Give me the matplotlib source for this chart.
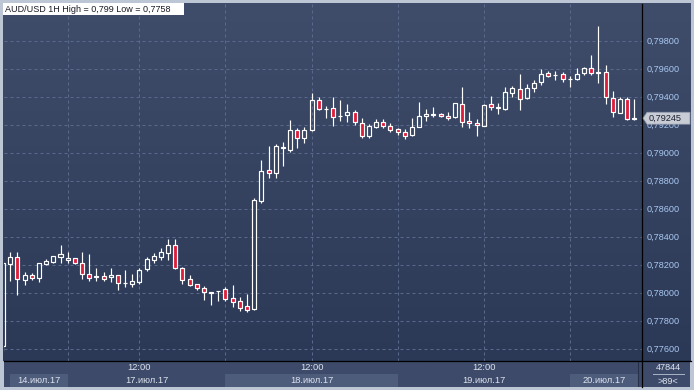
import numpy as np
import matplotlib
matplotlib.use("Agg")
import matplotlib.pyplot as plt
from matplotlib.patches import Rectangle, Polygon
from matplotlib.collections import LineCollection
from matplotlib.colors import LinearSegmentedColormap
from matplotlib.lines import Line2D
from matplotlib.ticker import FuncFormatter

plt.rcParams['font.family'] = ['Liberation Sans', 'DejaVu Sans']

# AUD/USD hourly candles (prices x 1e-5), first one is cut off by the left edge
opens = [77618, 78201, 78251, 78087, 78125, 78106, 78201, 78220, 78256, 78234,
         78244, 78209, 78130, 78109, 78120, 78109, 78123, 78066, 78059, 78073,
         78166, 78234, 78254, 78284, 78339, 78173, 78094, 78059, 78030, 77994,
         78008, 78023, 77959, 77939, 77904, 77880, 78656, 78875, 78851, 79030,
         79018, 79161, 79106, 79161, 79375, 79309, 79316, 79259, 79268, 79287,
         79213, 79118, 79184, 79216, 79187, 79168, 79144, 79125, 79184, 79259,
         79268, 79273, 79259, 79251, 79344, 79225, 79213, 79191, 79346, 79318,
         79311, 79427, 79451, 79387, 79459, 79506, 79566, 79553, 79561, 79526,
         79527, 79566, 79601, 79566, 79577, 79391, 79284, 79380, 79239]
highs = [78215, 78291, 78291, 78144, 78141, 78209, 78239, 78259, 78339, 78291,
         78244, 78291, 78275, 78173, 78144, 78173, 78125, 78161, 78130, 78173,
         78256, 78280, 78316, 78382, 78382, 78184, 78125, 78059, 78046, 78006,
         78011, 78039, 78054, 77970, 77989, 78673, 78946, 79046, 79059, 79077,
         79232, 79177, 79184, 79427, 79399, 79332, 79399, 79375, 79344, 79304,
         79249, 79201, 79237, 79237, 79209, 79177, 79168, 79244, 79363, 79311,
         79323, 79284, 79287, 79351, 79470, 79291, 79237, 79346, 79404, 79351,
         79470, 79475, 79561, 79489, 79518, 79596, 79584, 79582, 79577, 79546,
         79601, 79613, 79696, 79904, 79625, 79441, 79394, 79399, 79382]
lows = [77580, 78084, 77982, 78054, 78089, 78077, 78196, 78211, 78213, 78209,
        78205, 78094, 78084, 78084, 78084, 78077, 78018, 78041, 78041, 78061,
        78156, 78213, 78234, 78232, 78166, 78061, 78046, 78016, 77946, 77911,
        77941, 77939, 77899, 77868, 77863, 77878, 78637, 78820, 78820, 78906,
        79006, 79034, 79070, 79156, 79304, 79249, 79191, 79225, 79220, 79196,
        79106, 79106, 79173, 79173, 79149, 79125, 79094, 79120, 79180, 79227,
        79256, 79256, 79232, 79244, 79184, 79177, 79120, 79191, 79304, 79275,
        79304, 79399, 79304, 79380, 79434, 79482, 79537, 79518, 79506, 79470,
        79518, 79554, 79554, 79494, 79346, 79256, 79280, 79232, 79232]
closes = [78211, 78251, 78094, 78125, 78106, 78209, 78225, 78259, 78273, 78244,
          78209, 78130, 78101, 78120, 78099, 78123, 78070, 78070, 78084, 78161,
          78239, 78261, 78287, 78339, 78173, 78087, 78056, 78030, 78001, 78006,
          78010, 77954, 77934, 77891, 77873, 78661, 78868, 78851, 79046, 79036,
          79161, 79106, 79161, 79375, 79309, 79313, 79256, 79263, 79287, 79220,
          79118, 79191, 79220, 79191, 79161, 79144, 79120, 79184, 79259, 79275,
          79275, 79259, 79244, 79351, 79216, 79209, 79196, 79339, 79323, 79322,
          79434, 79459, 79380, 79459, 79499, 79561, 79549, 79555, 79523, 79528,
          79559, 79601, 79566, 79577, 79394, 79291, 79380, 79239, 79245]

price_ticks = [0.776, 0.778, 0.780, 0.782, 0.784, 0.786, 0.788, 0.790,
               0.792, 0.794, 0.796, 0.798]
grid_hours = [8, 18, 30, 42, 54, 66, 78]       # candle index of vertical grid lines
noon_pos = [18, 42, 66]
noon_label = "12:00"
day_labels = ["14.июл.17", "17.июл.17", "18.июл.17", "19.июл.17", "20.июл.17"]
day_edges = [0, 8, 30, 54, 78, 87.45]
day_shaded = [True, False, True, False, True]
title = "AUD/USD 1H High = 0,799 Low = 0,7758"
last_price = "0,79245"
volume_text = "47844"
count_text = ">89<"

o = np.array(opens) / 1e5
h = np.array(highs) / 1e5
l = np.array(lows) / 1e5
c = np.array(closes) / 1e5
pos = np.arange(len(o)) - 1

W, H = 694, 390


def box(x0, y0, x1, y1):
    return [x0 / W, 1 - y1 / H, (x1 - x0) / W, (y1 - y0) / H]


fig = plt.figure(figsize=(W / 100, H / 100), dpi=100, facecolor='#bcc6d4')

# background gradient behind chart and price scale
bg = fig.add_axes(box(3, 3, 691, 360.5))
cmap = LinearSegmentedColormap.from_list('bg', ['#3f4d6b', '#2b3856'])
bg.imshow(np.linspace(0, 1, 256).reshape(-1, 1), aspect='auto', cmap=cmap,
          extent=[0, 1, 0, 1])
bg.axis('off')

ax = fig.add_axes(box(4, 3.5, 641.5, 360.5))
ax.set_facecolor('none')
ax.set_xlim(-0.878, 88.0)
ax.set_ylim(0.775143, 0.800643)
for s in ['left', 'top', 'bottom']:
    ax.spines[s].set_visible(False)
ax.spines['right'].set_color('black')
ax.spines['right'].set_linewidth(0.9)

grid_kw = dict(color='#5a6a8c', lw=0.72, linestyle=(0, (3, 3)), zorder=1)
for p in price_ticks:
    ax.axhline(p, **grid_kw)
for g in grid_hours:
    ax.axvline(g, **grid_kw)

ax.set_xticks([])
ax.yaxis.tick_right()
ax.set_yticks(price_ticks)
ax.yaxis.set_major_formatter(FuncFormatter(lambda v, _: f"{v:.5f}".replace('.', ',')))
ax.tick_params(axis='y', length=0, pad=4, labelcolor='#a9c8f2', labelsize=6.6)

# candles
w = 0.56
wicks = []
for i, oo, hh, ll, cc in zip(pos, o, h, l, c):
    top, bot = max(oo, cc), min(oo, cc)
    wicks.append([(i, hh), (i, top)])
    wicks.append([(i, bot), (i, ll)])
    fc = 'none' if cc >= oo else '#dc1e3c'
    ax.add_patch(Rectangle((i - w / 2, bot), w, top - bot, facecolor=fc,
                           edgecolor='white', lw=0.85, zorder=3))
ax.add_collection(LineCollection(wicks, colors='white', linewidths=0.85, zorder=2))

# time bar
axb = fig.add_axes(box(4, 360.5, 641.5, 387))
axb.set_facecolor('#3d4a69')
axb.set_xlim(ax.get_xlim())
axb.set_ylim(387, 360.5)
axb.set_xticks([])
axb.set_yticks([])
for s in axb.spines.values():
    s.set_visible(False)
for k, lab in enumerate(day_labels):
    x0, x1 = day_edges[k], day_edges[k + 1]
    if day_shaded[k]:
        axb.add_patch(Rectangle((x0, 374), x1 - x0, 12.7, facecolor='#4e5c7c',
                                edgecolor='none'))
    axb.text((x0 + x1) / 2, 380.5, lab, ha='center', va='center',
             color='#dde3ee', fontsize=6.7)
for p in noon_pos:
    axb.text(p, 368, noon_label, ha='center', va='center', color='#dde3ee',
             fontsize=6.7)
axb.axvline(day_edges[-1] + 0.1, color='#27314a', lw=0.8)

# info box under price scale
axr = fig.add_axes(box(641.5, 360.5, 690, 387))
axr.set_facecolor('#3d4a69')
axr.set_xticks([])
axr.set_yticks([])
for s in axr.spines.values():
    s.set_visible(False)
axr.text(0.55, 0.72, volume_text, ha='center', va='center', color='#dde3ee',
         fontsize=6.6, transform=axr.transAxes)
axr.text(0.55, 0.22, count_text, ha='center', va='center', color='#dde3ee',
         fontsize=6.6, transform=axr.transAxes)
axr.plot([0.23, 0.87], [0.5, 0.5], color='#aab4c6', lw=0.7, transform=axr.transAxes)

fig.add_artist(Line2D([4 / W, 691 / W], [1 - 360.5 / H] * 2, color='black', lw=0.9))
fig.add_artist(Line2D([641.5 / W] * 2, [1 - 360.5 / H, 1 - 387 / H], color='black', lw=0.9))

# last price tag
fig.canvas.draw()
yd = ax.transData.transform((0, c[-1]))[1]
pts = [(643, yd), (647, yd + 6), (690, yd + 6), (690, yd - 6), (647, yd - 6)]
fig.add_artist(Polygon([(x / W, y / H) for x, y in pts], closed=True,
                       transform=fig.transFigure, facecolor='#c8ccd4',
                       edgecolor='#8a93a6', lw=0.5))
fig.text(649 / W, yd / H, last_price, ha='left', va='center', color='#1c2030',
         fontsize=6.6)

# title box
fig.add_artist(Rectangle((3 / W, 1 - 15 / H), 181 / W, 12 / H,
                         transform=fig.transFigure, facecolor='white',
                         edgecolor='none'))
fig.text(5 / W, 1 - 9.3 / H, title, ha='left', va='center', color='#1a1a24',
         fontsize=6.5)

fig.savefig('out.png', dpi=100, facecolor=fig.get_facecolor())
